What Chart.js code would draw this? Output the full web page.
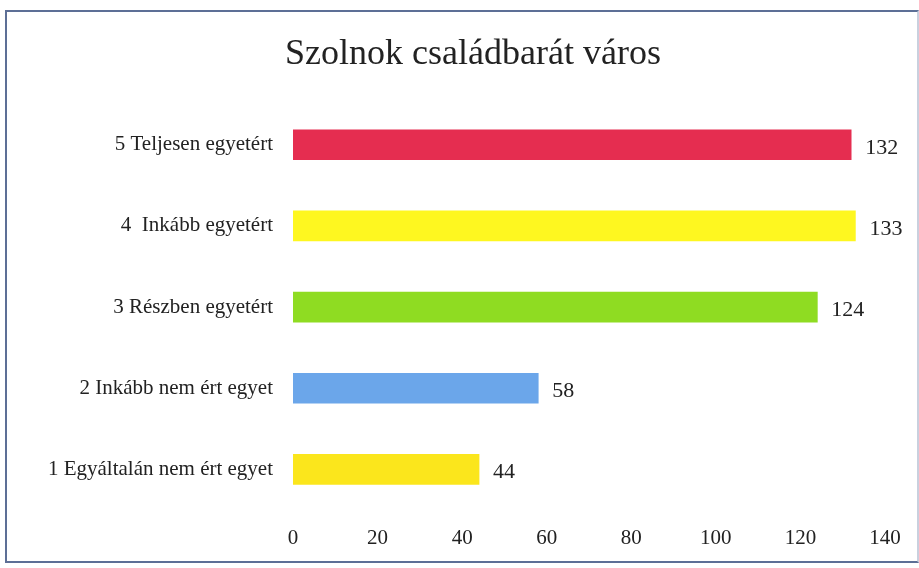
<!DOCTYPE html>
<html>
<head>
<meta charset="utf-8">
<script src="https://cdn.jsdelivr.net/npm/chart.js@4.4.0/dist/chart.umd.min.js"></script>
<style>
    html, body { margin: 0; padding: 0; background: #fff; }
    #wrap { position: relative; width: 919px; height: 568px; }
    #chart { display: block; }
    #frame {
        position: absolute;
        left: 5px; top: 10px;
        width: 910px; height: 549px;
        border: 2px solid #5d6f96;
        border-right-color: #c9d0de;
        pointer-events: none;
    }
</style>
</head>
<body>
<div id="wrap">
    <canvas id="chart" width="919" height="568"></canvas>
    <div id="frame"></div>
</div>
<script>
// Chart data, top bar first
const categories = [
    '5 Teljesen egyetért',
    '4  Inkább egyetért',
    '3 Részben egyetért',
    '2 Inkább nem ért egyet',
    '1 Egyáltalán nem ért egyet'
];
const counts = [132, 133, 124, 58, 44];
const barColors = ['#e52d50', '#fef720', '#8fdc22', '#6ba6ea', '#fbe61c'];
const xTicks = [0, 20, 40, 60, 80, 100, 120, 140];

const serif = '"Liberation Serif", "Times New Roman", serif';

/**
 * Write each value just past the end of its bar
 */
const valueLabels = {
    id: 'valueLabels',
    afterDatasetsDraw(chart) {
        const ctx = chart.ctx;
        const meta = chart.getDatasetMeta(0);
        ctx.save();
        ctx.font = '22px ' + serif;
        ctx.fillStyle = '#222';
        ctx.textBaseline = 'middle';
        ctx.textAlign = 'left';
        meta.data.forEach((bar, i) => {
            ctx.fillText(String(counts[i]), bar.x + 14, bar.y + 3);
        });
        ctx.restore();
    }
};

/**
 * The original title sits a bit right of centre; narrow its box from the left
 */
const titleShift = {
    id: 'titleShift',
    afterLayout(chart) {
        if (chart.titleBlock) {
            chart.titleBlock.left += 61;
        }
    }
};

new Chart(document.getElementById('chart'), {
    type: 'bar',
    data: {
        labels: categories,
        datasets: [{
            data: counts,
            backgroundColor: barColors,
            borderWidth: 0,
            barThickness: 30
        }]
    },
    options: {
        indexAxis: 'y',
        responsive: false,
        animation: false,
        layout: {
            padding: { left: 0, right: 34, top: 0, bottom: 0 }
        },
        plugins: {
            legend: { display: false },
            tooltip: { enabled: false },
            title: {
                display: true,
                text: 'Szolnok családbarát város',
                color: '#222',
                font: { family: serif, size: 36, weight: 'normal' },
                padding: { top: 33, bottom: 28 }
            }
        },
        scales: {
            x: {
                min: 0,
                max: 140,
                afterBuildTicks: (scale) => {
                    scale.ticks = xTicks.map(v => ({ value: v }));
                },
                afterFit: (scale) => { scale.height = 58; },
                grid: { display: false, drawTicks: false },
                border: { display: false },
                ticks: {
                    color: '#222',
                    padding: 16,
                    maxRotation: 0,
                    font: { family: serif, size: 21 }
                }
            },
            y: {
                afterFit: (scale) => { scale.width = 293; },
                grid: { display: false, drawTicks: false },
                border: { display: false },
                ticks: {
                    color: '#222',
                    padding: 20,
                    font: { family: serif, size: 21 }
                }
            }
        }
    },
    plugins: [valueLabels, titleShift]
});
</script>
</body>
</html>
